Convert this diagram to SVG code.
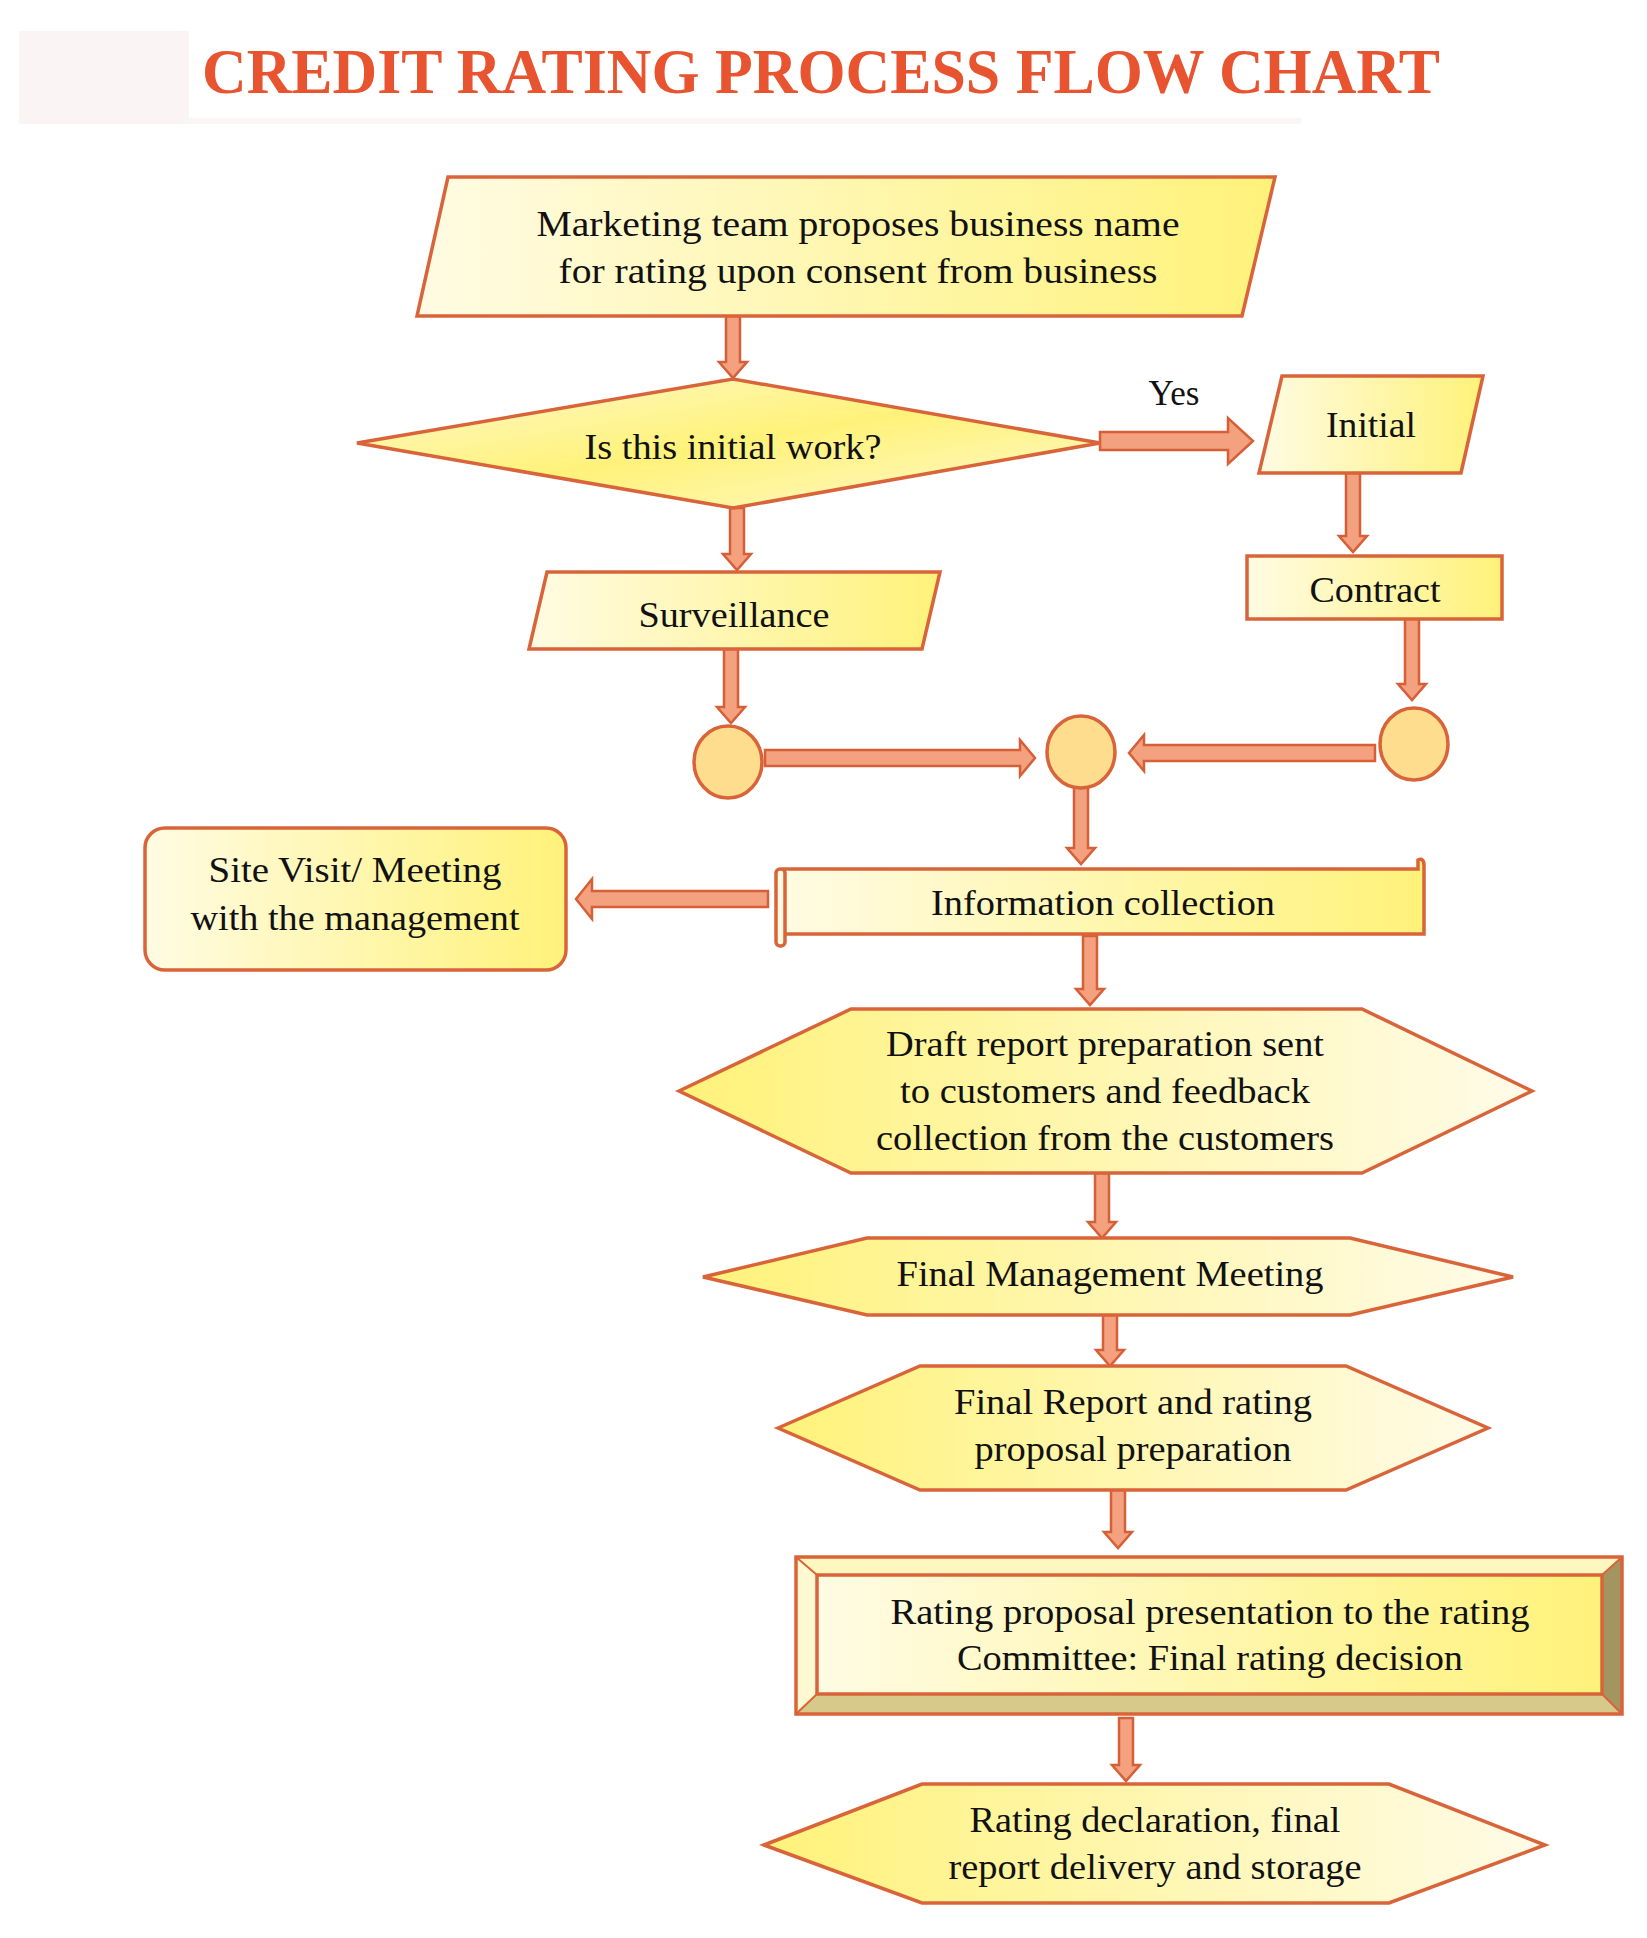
<svg xmlns="http://www.w3.org/2000/svg" width="1647" height="1938" viewBox="0 0 1647 1938">
<defs>
<linearGradient id="gL" x1="0" y1="0" x2="1" y2="0"><stop offset="0" stop-color="#fffbe3"/><stop offset="1" stop-color="#fff27a"/></linearGradient>
<linearGradient id="gR" x1="0" y1="0" x2="1" y2="0"><stop offset="0" stop-color="#fff27a"/><stop offset="1" stop-color="#fffbe8"/></linearGradient>
<linearGradient id="gD" x1="0" y1="0" x2="1" y2="1"><stop offset="0" stop-color="#fff9d0"/><stop offset="0.5" stop-color="#fff27a"/><stop offset="1" stop-color="#fff9d0"/></linearGradient>
</defs>
<style>
.s{stroke:#d9643a;stroke-width:3.5;stroke-linejoin:miter}
.t{font-family:"Liberation Serif","Times New Roman",serif;font-size:35px;fill:#111;text-anchor:middle}
.a{fill:#f3a17e;stroke:#d65f38;stroke-width:2.5;stroke-linejoin:miter}
.c{fill:#fedd8e;stroke:#d9643a;stroke-width:3.5}
</style>
<rect x="19" y="31" width="170" height="93" fill="#fbf4f5"/>
<rect x="189" y="118" width="1112" height="6" fill="#fbf6f6"/>
<text x="821" y="93" font-family="'Liberation Serif','Times New Roman',serif" font-weight="bold" font-size="64" fill="#e8542f" text-anchor="middle" textLength="1238" lengthAdjust="spacingAndGlyphs">CREDIT RATING PROCESS FLOW CHART</text>

<g id="connectors">
<polygon class="a" points="726,316 740,316 740,362 747,362 733,378 719,362 726,362"/>
<polygon class="a" points="730,508 744,508 744,554 751,554 737,570 723,554 730,554"/>
<polygon class="a" points="1100,432 1228,432 1228,418 1253,441 1228,464 1228,450 1100,450"/>
<polygon class="a" points="1346,473 1360,473 1360,536 1367,536 1353,552 1339,536 1346,536"/>
<polygon class="a" points="1405,619 1419,619 1419,684 1426,684 1412,700 1398,684 1405,684"/>
<polygon class="a" points="724,649 738,649 738,707 745,707 731,723 717,707 724,707"/>
<polygon class="a" points="765,750 1020,750 1020,740 1035,758 1020,776 1020,766 765,766"/>
<polygon class="a" points="1375,745 1144,745 1144,735 1129,753 1144,771 1144,761 1375,761"/>
<polygon class="a" points="1074,787 1088,787 1088,848 1095,848 1081,864 1067,848 1074,848"/>
<polygon class="a" points="768,891 592,891 592,879 576,899 592,919 592,907 768,907"/>
<polygon class="a" points="1083,936 1097,936 1097,989 1104,989 1090,1005 1076,989 1083,989"/>
<polygon class="a" points="1095,1173 1109,1173 1109,1222 1116,1222 1102,1238 1088,1222 1095,1222"/>
<polygon class="a" points="1103,1315 1117,1315 1117,1350 1124,1350 1110,1366 1096,1350 1103,1350"/>
<polygon class="a" points="1111,1490 1125,1490 1125,1532 1132,1532 1118,1548 1104,1532 1111,1532"/>
<polygon class="a" points="1119,1718 1133,1718 1133,1765 1140,1765 1126,1781 1112,1765 1119,1765"/>
<text x="1174" y="405" font-family="'Liberation Serif','Times New Roman',serif" font-size="35" fill="#111" text-anchor="middle">Yes</text>
</g>

<g id="marketing">
<polygon class="s" fill="url(#gL)" points="448,177 1275,177 1242,316 417,316"/>
<text class="t" x="858" y="236" textLength="643" lengthAdjust="spacingAndGlyphs">Marketing team proposes business name</text>
<text class="t" x="858" y="283" textLength="599" lengthAdjust="spacingAndGlyphs">for rating upon consent from business</text>
</g>
<g id="decision">
<polygon class="s" fill="url(#gD)" points="357,443 733,379 1100,443 733,508"/>
<text class="t" x="733" y="459" textLength="297" lengthAdjust="spacingAndGlyphs">Is this initial work?</text>
</g>
<g id="initial">
<polygon class="s" fill="url(#gL)" points="1282,376 1483,376 1461,473 1259,473"/>
<text class="t" x="1371" y="437" textLength="90" lengthAdjust="spacingAndGlyphs">Initial</text>
</g>
<g id="contract">
<rect class="s" fill="url(#gL)" x="1247" y="556" width="255" height="63"/>
<text class="t" x="1375" y="602" textLength="131" lengthAdjust="spacingAndGlyphs">Contract</text>
</g>
<g id="surveillance">
<polygon class="s" fill="url(#gL)" points="547,572 940,572 922,649 529,649"/>
<text class="t" x="734" y="627" textLength="191" lengthAdjust="spacingAndGlyphs">Surveillance</text>
</g>
<g id="circle-left"><ellipse class="c" cx="728" cy="762" rx="34" ry="36"/></g>
<g id="circle-center"><ellipse class="c" cx="1081" cy="752" rx="34" ry="36"/></g>
<g id="circle-right"><ellipse class="c" cx="1414" cy="744" rx="34" ry="36"/></g>
<g id="site-visit">
<rect class="s" fill="url(#gL)" x="145" y="828" width="421" height="142" rx="20"/>
<text class="t" x="355" y="882" textLength="293" lengthAdjust="spacingAndGlyphs">Site Visit/ Meeting</text>
<text class="t" x="355" y="930" textLength="329" lengthAdjust="spacingAndGlyphs">with the management</text>
</g>
<g id="information">
<path class="s" fill="url(#gL)" d="M784,869 L1418,869 L1418,860 Q1424,857 1424,866 L1424,934 L784,934 Z"/>
<rect class="s" fill="#fffbe3" x="776" y="869" width="9" height="77" rx="4"/>
<text class="t" x="1103" y="915" textLength="344" lengthAdjust="spacingAndGlyphs">Information collection</text>
</g>
<g id="draft">
<polygon class="s" fill="url(#gR)" points="679,1091 851,1009 1362,1009 1532,1091 1362,1173 851,1173"/>
<text class="t" x="1105" y="1056" textLength="438" lengthAdjust="spacingAndGlyphs">Draft report preparation sent</text>
<text class="t" x="1105" y="1103" textLength="410" lengthAdjust="spacingAndGlyphs">to customers and feedback</text>
<text class="t" x="1105" y="1150" textLength="458" lengthAdjust="spacingAndGlyphs">collection from the customers</text>
</g>
<g id="final-meeting">
<polygon class="s" fill="url(#gR)" points="703,1277 867,1238 1350,1238 1513,1277 1350,1315 867,1315"/>
<text class="t" x="1110" y="1286" textLength="427" lengthAdjust="spacingAndGlyphs">Final Management Meeting</text>
</g>
<g id="final-report">
<polygon class="s" fill="url(#gR)" points="778,1428 920,1366 1346,1366 1488,1428 1346,1490 920,1490"/>
<text class="t" x="1133" y="1414" textLength="358" lengthAdjust="spacingAndGlyphs">Final Report and rating</text>
<text class="t" x="1133" y="1461" textLength="317" lengthAdjust="spacingAndGlyphs">proposal preparation</text>
</g>
<g id="committee">
<rect x="796" y="1557" width="826" height="157" fill="#fff9d2"/>
<polygon points="1602,1575 1622,1557 1622,1714 1602,1694" fill="#a39560"/>
<polygon points="796,1714 817,1694 1602,1694 1622,1714" fill="#d6c98a"/>
<polygon points="796,1557 817,1575 1602,1575 1622,1557" fill="#fff6c0"/>
<rect class="s" fill="none" x="796" y="1557" width="826" height="157"/>
<rect class="s" fill="url(#gL)" x="817" y="1575" width="785" height="119"/>
<path d="M796,1557 L817,1575 M1622,1557 L1602,1575 M796,1714 L817,1694 M1622,1714 L1602,1694" stroke="#d9643a" stroke-width="2"/>
<text class="t" x="1210" y="1624" textLength="639" lengthAdjust="spacingAndGlyphs">Rating proposal presentation to the rating</text>
<text class="t" x="1210" y="1670" textLength="506" lengthAdjust="spacingAndGlyphs">Committee: Final rating decision</text>
</g>
<g id="declaration">
<polygon class="s" fill="url(#gR)" points="764,1845 922,1784 1389,1784 1545,1845 1389,1903 922,1903"/>
<text class="t" x="1155" y="1832" textLength="371" lengthAdjust="spacingAndGlyphs">Rating declaration, final</text>
<text class="t" x="1155" y="1879" textLength="413" lengthAdjust="spacingAndGlyphs">report delivery and storage</text>
</g>
</svg>
